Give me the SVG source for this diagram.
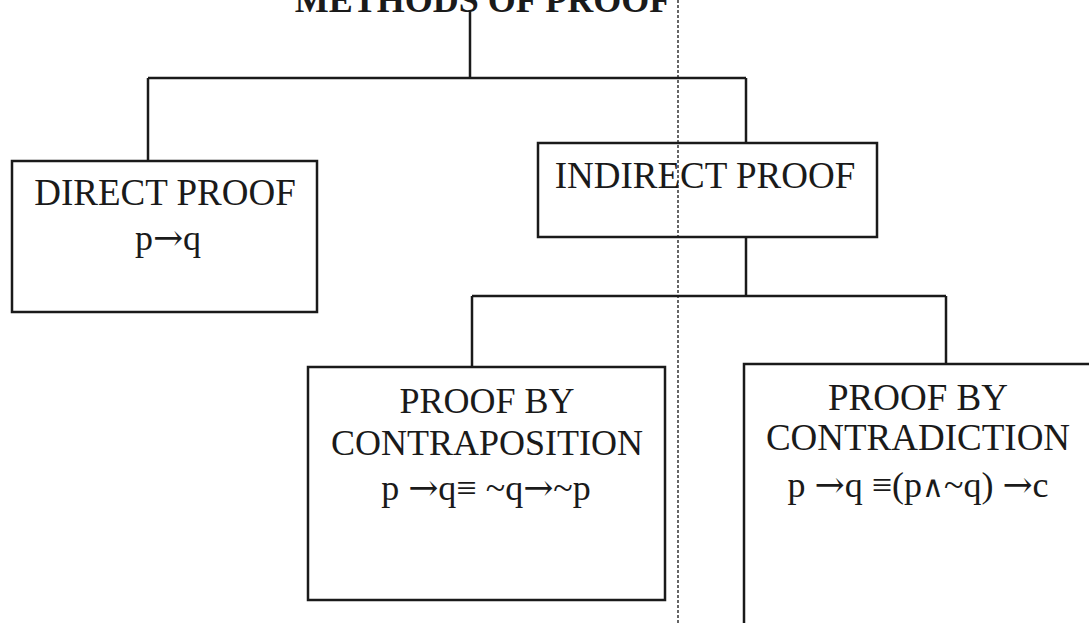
<svg xmlns="http://www.w3.org/2000/svg" width="1089" height="623" viewBox="0 0 1089 623">
<style>
.box{fill:none;stroke:#1a1a1a;stroke-width:2.5}
.ln{fill:none;stroke:#1a1a1a;stroke-width:2.5}
.t{font-family:"Liberation Serif","Times New Roman",serif;font-size:37px;fill:#1a1a1a;text-anchor:middle}
.f{font-family:"Liberation Serif","DejaVu Serif",serif;font-size:36px;fill:#1a1a1a;text-anchor:middle}
.a{font-family:"DejaVu Serif",serif;font-size:36px}
.title{font-family:"Liberation Serif","Times New Roman",serif;font-size:36px;font-weight:bold;fill:#1a1a1a;text-anchor:middle}
</style>
<rect width="1089" height="623" fill="#ffffff"/>
<g id="fold">
<line x1="678" y1="0" x2="678" y2="623" stroke="#333" stroke-width="1.5" stroke-dasharray="3,2"/>
</g>
<g id="connectors">
<path class="ln" d="M470 10 V78"/>
<path class="ln" d="M148 78 H746"/>
<path class="ln" d="M148 78 V161"/>
<path class="ln" d="M746 78 V143"/>
<path class="ln" d="M746 237 V296"/>
<path class="ln" d="M472 296 H946"/>
<path class="ln" d="M472 296 V367"/>
<path class="ln" d="M946 296 V364"/>
</g>
<g id="title">
<text class="title" x="483" y="12">METHODS OF PROOF</text>
</g>
<g id="direct">
<rect class="box" x="12" y="161" width="305" height="151"/>
<text class="t" x="165" y="205">DIRECT PROOF</text>
<text class="f" x="168" y="250">p<tspan class="a">→</tspan>q</text>
</g>
<g id="indirect">
<rect class="box" x="538" y="143" width="339" height="94"/>
<text class="t" x="705" y="188">INDIRECT PROOF</text>
</g>
<g id="contraposition">
<rect class="box" x="308" y="367" width="357" height="233"/>
<text class="t" x="487" y="413" style="font-size:36px">PROOF BY</text>
<text class="t" x="487" y="455" style="font-size:36px">CONTRAPOSITION</text>
<text class="f" x="486" y="500">p <tspan class="a">→</tspan>q≡ ~q<tspan class="a">→</tspan>~p</text>
</g>
<g id="contradiction">
<rect class="box" x="744" y="364" width="360" height="280"/>
<text class="t" x="918" y="410">PROOF BY</text>
<text class="t" x="918" y="450">CONTRADICTION</text>
<text class="f" x="918" y="497">p <tspan class="a">→</tspan>q ≡(p<tspan class="a" style="font-size:30px">∧</tspan>~q) <tspan class="a">→</tspan>c</text>
</g>
</svg>
